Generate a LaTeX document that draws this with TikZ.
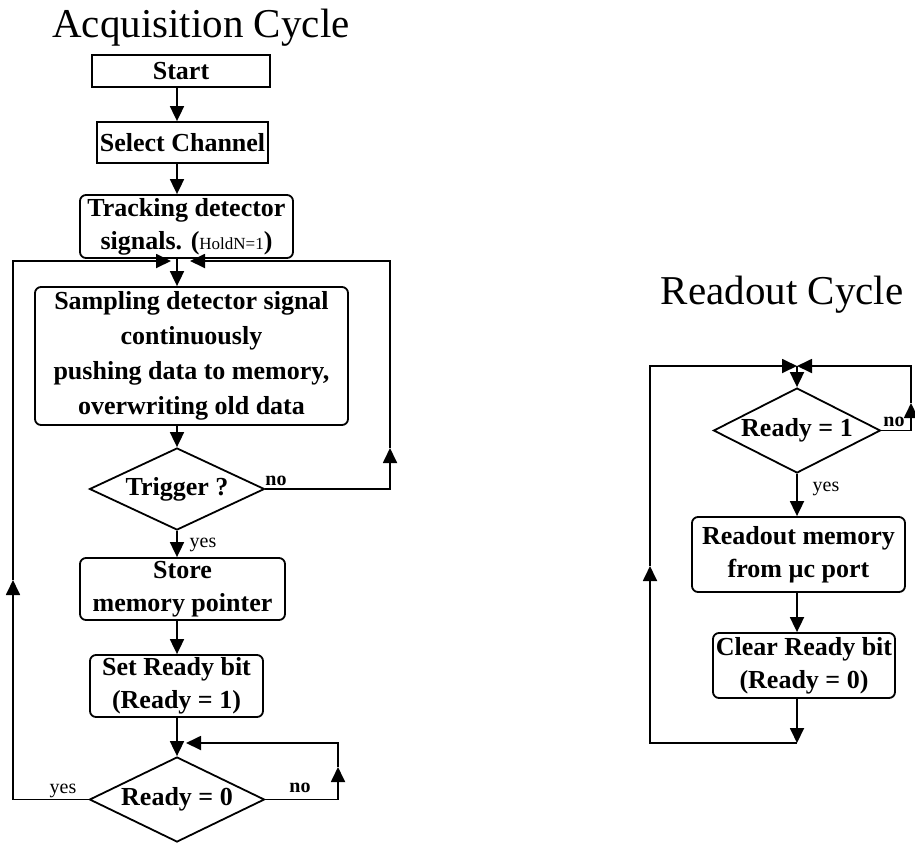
\documentclass[tikz,border=0pt]{standalone}
\usepackage{fontspec}
\setmainfont{Liberation Serif}
\usetikzlibrary{arrows.meta,shapes.geometric}

\begin{document}
\begin{tikzpicture}[x=1pt,y=-1pt,
  flow/.style={line width=1.8pt},
  arr/.style={flow,-{Triangle[length=15pt,width=14pt]}},
  boxtext/.style={font=\fontsize{26}{33}\selectfont\bfseries,align=center,inner sep=0pt},
  sqbox/.style={boxtext,draw,line width=1.8pt},
  rbox/.style={boxtext,draw,line width=1.8pt,rounded corners=6pt},
  decision/.style={boxtext,draw,line width=1.8pt,diamond,aspect=2},
  heading/.style={font=\fontsize{41}{48}\selectfont,inner sep=0pt,anchor=base},
  yeslabel/.style={font=\fontsize{20}{24}\selectfont,inner sep=0pt},
  nolabel/.style={font=\fontsize{20}{24}\selectfont\bfseries,inner sep=0pt}
]
\useasboundingbox (0,0) rectangle (915,844);

% ---------------- acquisition cycle ----------------
\coordinate (cx) at (177,0);
\node[heading] (acqtitle) at (201,37) {Acquisition Cycle};

\node[sqbox,minimum width=178pt,minimum height=32pt] (start) at (181,71) {Start};
\node[sqbox,minimum width=171pt,minimum height=41pt] (select) at (182.5,142.5) {Select Channel};
\node[rbox,minimum width=213pt,minimum height=63pt] (track) at (186.5,226.5)
  {Tracking detector\\signals. ({\fontsize{17}{20}\selectfont\mdseries HoldN=1})};
\node[rbox,minimum width=313pt,minimum height=138pt,font=\fontsize{26}{35}\selectfont\bfseries] (samp) at (191.5,356)
  {Sampling detector signal\\continuously\\pushing data to memory,\\overwriting old data};
\node[decision,minimum width=175pt,minimum height=82pt] (trig) at (177,489) {Trigger ?};
\node[rbox,minimum width=205pt,minimum height=62pt] (store) at (182.5,589) {Store\\memory pointer};
\node[rbox,minimum width=173pt,minimum height=62pt] (setr) at (176.5,686) {Set Ready bit\\(Ready = 1)};
\node[decision,minimum width=175pt,minimum height=85pt] (rdy0) at (177,799.5) {Ready = 0};

\draw[arr] (start.south -| cx) -- (select.north -| cx);
\draw[arr] (select.south -| cx) -- (track.north -| cx);
\draw[arr] (track.south -| cx) -- (samp.north -| cx);
\draw[arr] (samp.south -| cx) -- (trig.north);
\draw[arr] (trig.south) -- (store.north -| cx);
\draw[arr] (store.south -| cx) -- (setr.north -| cx);
\draw[arr] (setr.south -| cx) -- (rdy0.north);

% "yes" of Ready = 0: back to sampling
\coordinate (lt) at (13,261);
\coordinate (lup) at (13,580);
\coordinate (ltip) at (171,261);
\draw[arr] (rdy0.west) -- (rdy0.west -| lt) -- (lup);
\draw[arr] (lup) -- (lt) -- (ltip);

% "no" of Trigger: keep sampling
\coordinate (rt) at (390,261);
\coordinate (rup) at (390,448);
\coordinate (rtip) at (190,261);
\draw[arr] (trig.east) -- (trig.east -| rt) -- (rup);
\draw[arr] (rup) -- (rt) -- (rtip);

% "no" of Ready = 0: wait
\coordinate (qt) at (338,743);
\coordinate (qup) at (338,767);
\coordinate (qtip) at (186,743);
\draw[arr] (rdy0.east) -- (rdy0.east -| qt) -- (qup);
\draw[arr] (qup) -- (qt) -- (qtip);

\node[nolabel] (trigno) at (276,481) {no};
\node[yeslabel] (trigyes) at (203,545) {yes};
\node[nolabel] (rdy0no) at (300,788) {no};
\node[yeslabel] (rdy0yes) at (63,791) {yes};

% ---------------- readout cycle ----------------
\coordinate (c2) at (797,0);
\node[heading] (rdtitle) at (782,304) {Readout Cycle};

\node[decision,minimum width=167pt,minimum height=85pt] (rdy1) at (797,430.5) {Ready = 1};
\node[rbox,minimum width=213pt,minimum height=75pt] (rdmem) at (798.5,554.5) {Readout memory\\from µc port};
\node[rbox,minimum width=182pt,minimum height=65pt] (clr) at (804,665.5) {Clear Ready bit\\(Ready = 0)};

\coordinate (tc) at (797,366);
\coordinate (bc) at (797,743);
\coordinate (bl) at (650,743);
\coordinate (tl) at (650,366);
\coordinate (lu2) at (650,566);
\coordinate (tr) at (911,366);
\coordinate (ru2) at (911,403);

\draw[arr] (rdy1.south) -- (rdmem.north -| c2);
\draw[arr] (rdmem.south -| c2) -- (clr.north -| c2);
\draw[arr] (clr.south -| c2) -- (bc);
\draw[arr] (bc) -- (bl) -- (lu2);
\draw[arr] (lu2) -- (tl) -- (tc);
\draw[arr] (rdy1.east) -- (rdy1.east -| tr) -- (ru2);
\draw[arr] (ru2) -- (tr) -- (tc);
\draw[arr] (tc) -- (rdy1.north);

\node[yeslabel] (rdy1yes) at (826,489) {yes};
\node[nolabel] (rdy1no) at (894,422) {no};
\end{tikzpicture}
\end{document}
